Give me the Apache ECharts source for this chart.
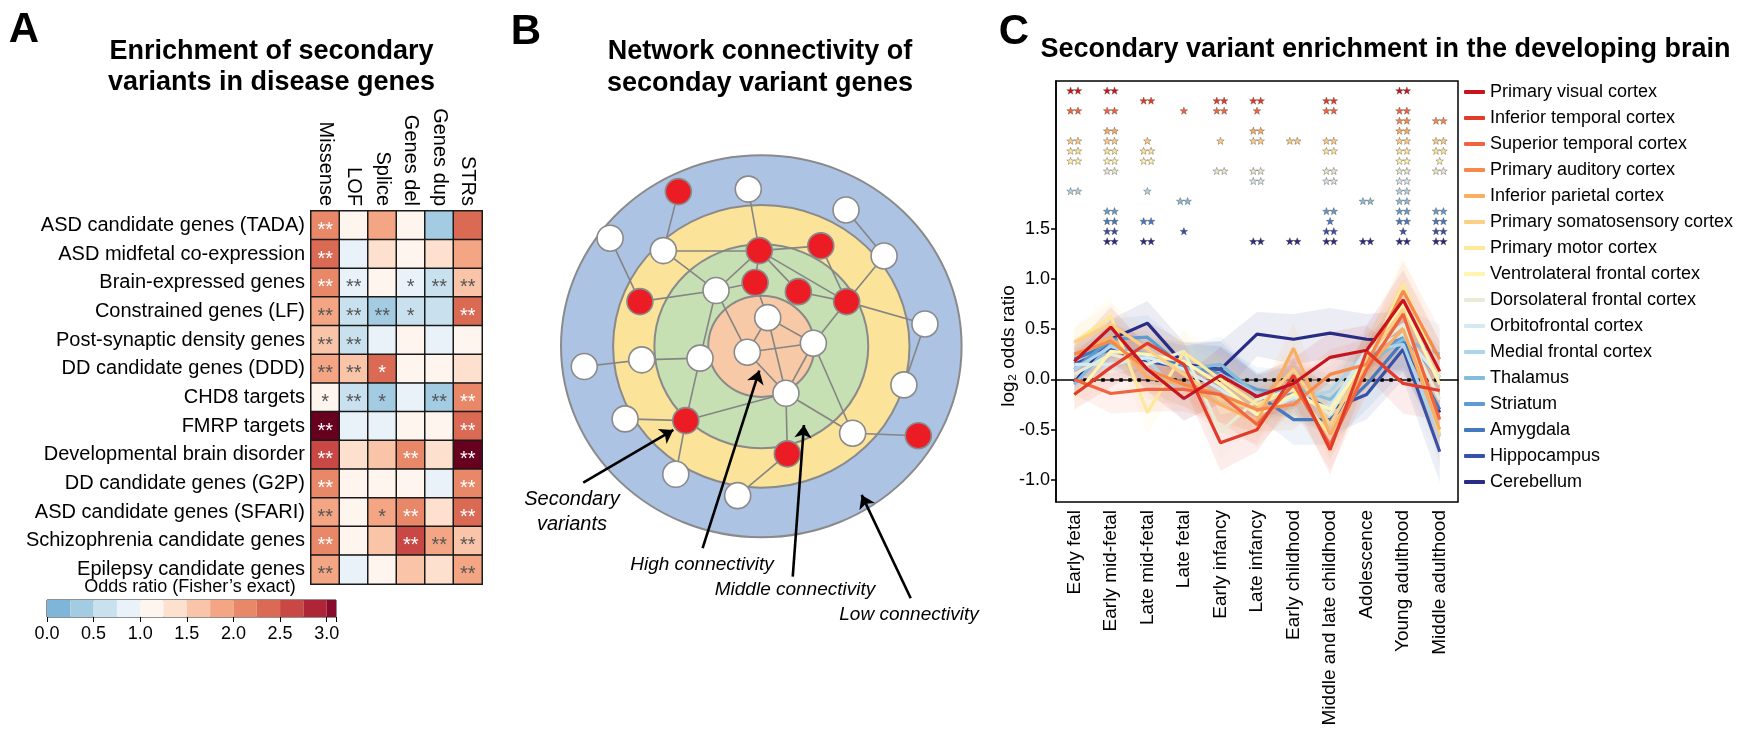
<!DOCTYPE html>
<html>
<head>
<meta charset="utf-8">
<script src="https://cdn.jsdelivr.net/npm/echarts@6/dist/echarts.min.js"></script>
<style>
html, body { margin: 0; padding: 0; background: #fff; }
#chart { width: 1741px; height: 742px; }
</style>
</head>
<body>
<div id="chart"></div>
<script>
const FONT = '"Liberation Sans", Arial, Helvetica, sans-serif';

// ---------- A: enrichment heatmap ----------
const geneSets = [
  'ASD candidate genes (TADA)', 'ASD midfetal co-expression', 'Brain-expressed genes',
  'Constrained genes (LF)', 'Post-synaptic density genes', 'DD candidate genes (DDD)',
  'CHD8 targets', 'FMRP targets', 'Developmental brain disorder', 'DD candidate genes (G2P)',
  'ASD candidate genes (SFARI)', 'Schizophrenia candidate genes', 'Epilepsy candidate genes'
];
const variantClasses = ['Missense', 'LOF', 'Splice', 'Genes del', 'Genes dup', 'STRs'];
const oddsRatios = [
  [2.10, 1.10, 1.85, 1.10, 0.35, 2.35],
  [2.40, 0.90, 1.35, 1.10, 1.35, 1.85],
  [2.10, 0.90, 1.10, 0.90, 0.65, 1.60],
  [1.85, 0.60, 0.40, 0.65, 0.65, 2.40],
  [1.60, 0.65, 0.90, 1.10, 0.90, 1.10],
  [1.85, 1.60, 2.40, 1.10, 1.10, 1.35],
  [1.10, 0.65, 0.40, 0.90, 0.40, 2.10],
  [3.30, 0.90, 0.90, 1.10, 1.10, 2.35],
  [2.65, 1.35, 1.60, 2.10, 1.35, 3.30],
  [2.10, 1.10, 1.10, 1.10, 0.90, 2.10],
  [1.85, 1.10, 1.85, 2.10, 1.35, 2.40],
  [2.10, 1.10, 1.60, 2.65, 1.85, 1.60],
  [1.85, 0.90, 1.10, 1.60, 1.35, 1.85]
];
const cellStars = [
  ['**', '', '', '', '', ''],
  ['**', '', '', '', '', ''],
  ['**', '**', '', '*', '**', '**'],
  ['**', '**', '**', '*', '', '**'],
  ['**', '**', '', '', '', ''],
  ['**', '**', '*', '', '', ''],
  ['*', '**', '*', '', '**', '**'],
  ['**', '', '', '', '', '**'],
  ['**', '', '', '**', '', '**'],
  ['**', '', '', '', '', '**'],
  ['**', '', '*', '**', '', '**'],
  ['**', '', '', '**', '**', '**'],
  ['**', '', '', '', '', '**']
];
const orBinEdges = [0, 0.25, 0.5, 0.75, 1.0, 1.25, 1.5, 1.75, 2.0, 2.25, 2.5, 2.75, 3.0, 3.25, 3.5];
const orBinColors = ['#7eb5d8', '#a3cce3', '#c9e1ee', '#e9f2f8', '#fef5ef', '#fde0cd', '#f9c4a8',
  '#f4a583', '#e98868', '#db6a55', '#c94845', '#ae2538', '#870b2b', '#67001f'];
const orTicks = [0, 0.5, 1.0, 1.5, 2.0, 2.5, 3.0];

// ---------- B: network schematic ----------
const ringRadii = [1.0, 0.74, 0.534, 0.265];
const ringColors = ['#adc3e4', '#fbe39a', '#c6dfb3', '#f8c9a6'];
const nodeX = [-0.414, -0.065, 0.423, -0.755, -0.489, -0.010, 0.297, 0.613, -0.606, -0.226,
  -0.031, 0.185, 0.426, 0.817, 0.032, 0.260, -0.070, -0.306, -0.597, -0.884,
  0.123, 0.712, -0.680, -0.377, 0.456, 0.784, 0.130, -0.427, -0.118];
const nodeY = [0.810, 0.823, 0.714, 0.566, 0.501, 0.501, 0.526, 0.473, 0.234, 0.292,
  0.334, 0.286, 0.234, 0.117, 0.150, 0.016, -0.031, -0.062, -0.071, -0.106,
  -0.246, -0.202, -0.380, -0.389, -0.455, -0.468, -0.563, -0.670, -0.782];
const nodeVariant = [1, 0, 0, 0, 0, 1, 1, 0, 1, 0,
  1, 1, 1, 0, 0, 0, 0, 0, 0, 0,
  0, 0, 0, 1, 0, 1, 1, 0, 0];
const edges = [[0, 4], [1, 5], [2, 7], [3, 8], [4, 5], [5, 6], [4, 9], [5, 9], [5, 10], [5, 11],
  [5, 12], [6, 12], [7, 12], [8, 9], [9, 17], [9, 10], [9, 16], [10, 14], [11, 12], [12, 13],
  [12, 15], [13, 21], [14, 15], [14, 16], [14, 20], [15, 16], [15, 20], [15, 24], [16, 20],
  [17, 18], [17, 23], [18, 19], [20, 23], [20, 26], [20, 24], [22, 23], [23, 27], [24, 25], [26, 28]];
const arrowTails = [[-0.889, -0.714], [-0.293, -1.057], [0.157, -1.206], [0.746, -1.319]];
const arrowHeads = [[-0.439, -0.438], [-0.010, -0.127], [0.213, -0.412], [0.501, -0.778]];

// ---------- C: developing brain ----------
const stages = ['Early fetal', 'Early mid-fetal', 'Late mid-fetal', 'Late fetal', 'Early infancy',
  'Late infancy', 'Early childhood', 'Middle and late childhood', 'Adolescence',
  'Young adulthood', 'Middle adulthood'];
const regions = ['Primary visual cortex', 'Inferior temporal cortex', 'Superior temporal cortex',
  'Primary auditory cortex', 'Inferior parietal cortex', 'Primary somatosensory cortex',
  'Primary motor cortex', 'Ventrolateral frontal cortex', 'Dorsolateral frontal cortex',
  'Orbitofrontal cortex', 'Medial frontal cortex', 'Thalamus', 'Striatum', 'Amygdala',
  'Hippocampus', 'Cerebellum'];
const regionColors = ['#c8141e', '#e23b2a', '#f06540', '#f68a4a', '#f9ae62', '#fdcf85',
  '#fee89a', '#fff4b0', '#e6ecd6', '#d3e9f4', '#acd4ea', '#84bcdd', '#5e9bcf', '#4479c0',
  '#3651a8', '#292c85'];
const log2OR = [
  [0.18, 0.52, 0.10, -0.19, 0.04, -0.17, -0.04, 0.22, 0.29, 0.79, 0.08],
  [-0.15, 0.12, 0.36, 0.15, -0.63, -0.50, 0.04, -0.70, 0.28, -0.04, -0.11],
  [0.00, -0.14, -0.10, -0.10, -0.15, -0.45, -0.05, -0.65, 0.10, 0.65, -0.40],
  [0.25, 0.38, 0.10, -0.05, -0.15, -0.30, -0.25, 0.05, 0.15, 0.88, 0.20],
  [0.25, 0.42, 0.02, -0.05, -0.25, -0.42, 0.31, -0.55, 0.12, 0.50, -0.50],
  [0.37, 0.55, 0.30, 0.05, -0.20, -0.30, 0.10, -0.45, 0.20, 0.70, -0.55],
  [0.37, 0.63, -0.33, 0.27, 0.00, -0.25, -0.10, -0.55, 0.15, 0.95, 0.05],
  [-0.18, 0.28, 0.25, 0.18, -0.05, -0.35, -0.15, -0.30, 0.20, 0.75, -0.05],
  [0.05, 0.25, 0.15, 0.28, -0.52, -0.20, -0.10, -0.35, 0.25, 0.55, -0.20],
  [0.15, 0.15, 0.22, 0.10, -0.10, -0.35, -0.18, -0.28, 0.30, 0.45, 0.02],
  [0.10, 0.33, 0.20, -0.20, 0.05, -0.15, -0.20, -0.12, 0.28, 0.35, -0.57],
  [-0.05, 0.35, 0.25, 0.10, 0.15, -0.15, -0.08, -0.20, 0.15, 0.40, 0.25],
  [0.10, 0.40, 0.42, 0.12, 0.05, -0.10, -0.15, -0.30, 0.20, 0.42, 0.02],
  [0.20, 0.35, 0.20, 0.15, 0.05, -0.15, -0.40, -0.40, -0.05, 0.38, -0.30],
  [0.15, 0.30, 0.18, 0.12, 0.10, -0.18, -0.10, -0.30, -0.15, 0.30, -0.72],
  [-0.03, 0.40, 0.56, 0.15, 0.10, 0.45, 0.40, 0.46, 0.40, 0.38, -0.33]
];
const ciHalfWidth = [0.15, 0.20, 0.22, 0.22, 0.28, 0.22, 0.25, 0.25, 0.25, 0.30, 0.30];
const stageStars = [
  ['**', '**', '', '', '', '', '', '', '', '**', ''],
  ['', '', '**', '', '**', '**', '', '**', '', '', ''],
  ['**', '**', '', '*', '**', '*', '', '**', '', '**', ''],
  ['', '', '', '', '', '', '', '', '', '**', '**'],
  ['', '**', '', '', '', '**', '', '', '', '**', ''],
  ['**', '**', '*', '', '*', '**', '**', '**', '', '**', '**'],
  ['**', '**', '**', '', '', '', '', '**', '', '**', '**'],
  ['**', '**', '**', '', '', '', '', '', '', '**', '*'],
  ['', '**', '', '', '**', '**', '', '**', '', '**', '**'],
  ['', '', '', '', '', '**', '', '**', '', '**', ''],
  ['**', '', '*', '', '', '', '', '', '', '**', ''],
  ['', '', '', '**', '', '', '', '', '**', '**', ''],
  ['', '**', '', '', '', '', '', '**', '', '**', '**'],
  ['', '**', '**', '', '', '', '', '*', '', '**', '**'],
  ['', '**', '', '*', '', '', '', '**', '', '*', '**'],
  ['', '**', '**', '', '', '**', '**', '**', '**', '**', '**']
];
const log2Ticks = [-1.0, -0.5, 0.0, 0.5, 1.0, 1.5];

// five-point star outline centred on (cx, cy), in pixels
function starPoints(cx, cy, R, r) {
  const pts = [];
  for (let k = 0; k < 10; k++) {
    const a = -Math.PI / 2 + k * Math.PI / 5;
    const rad = k % 2 === 0 ? R : r;
    pts.push([cx + rad * Math.cos(a), cy + rad * Math.sin(a) + 0.4]);
  }
  return pts;
}

const chart = echarts.init(document.getElementById('chart'), null, { renderer: 'canvas' });

// heatmap cells
const heatData = [];
oddsRatios.forEach((row, r) => row.forEach((v, c) => {
  const s = cellStars[r][c];
  heatData.push({
    value: [c, r, v],
    label: { show: s !== '', formatter: s, color: v >= 2 ? '#ffffff' : '#555555' }
  });
}));

const bins = [];
for (let i = 0; i < orBinColors.length; i++) bins.push([orBinEdges[i], orBinEdges[i + 1], i]);

const series = [];

series.push({
  type: 'heatmap', xAxisIndex: 0, yAxisIndex: 0, data: heatData,
  itemStyle: { borderColor: '#1a1a1a', borderWidth: 1.5 },
  label: { fontFamily: FONT, fontSize: 20, offset: [0, 5] },
  emphasis: { disabled: true }, z: 2
});

const cbMax = 3.1;
series.push({
  type: 'custom', xAxisIndex: 1, yAxisIndex: 1, data: bins, clip: false,
  renderItem: function (params, api) {
    const lo = api.value(0), hi = Math.min(api.value(1), cbMax);
    if (lo >= cbMax) return null;
    const p0 = api.coord([lo, 1]), p1 = api.coord([hi, 0]);
    return { type: 'rect', shape: { x: p0[0], y: p0[1], width: p1[0] - p0[0], height: p1[1] - p0[1] },
      style: { fill: orBinColors[api.value(2)] } };
  }
});

// network rings
series.push({
  type: 'custom', xAxisIndex: 2, yAxisIndex: 2, clip: false, z: 1,
  data: ringRadii.map((r, i) => [r, i]),
  renderItem: function (params, api) {
    const c = api.coord([0, 0]);
    const s = api.size([api.value(0), api.value(0)]);
    return { type: 'ellipse', shape: { cx: c[0], cy: c[1], rx: s[0], ry: s[1] },
      style: { fill: ringColors[api.value(1)], stroke: '#8a8a8a', lineWidth: 2 } };
  }
});
series.push({
  type: 'lines', coordinateSystem: 'cartesian2d', xAxisIndex: 2, yAxisIndex: 2, z: 3, silent: true,
  data: edges.map(([a, b]) => ({ coords: [[nodeX[a], nodeY[a]], [nodeX[b], nodeY[b]]] })),
  lineStyle: { color: '#858585', width: 1.6, opacity: 1 }
});
series.push({
  type: 'scatter', xAxisIndex: 2, yAxisIndex: 2, z: 4, symbolSize: 26, silent: true,
  data: nodeX.map((x, i) => ({ value: [x, nodeY[i]],
    itemStyle: { color: nodeVariant[i] ? '#ec1c24' : '#ffffff' } })),
  itemStyle: { borderColor: '#8a8a8a', borderWidth: 1.6, opacity: 1 }
});
series.push({
  type: 'lines', coordinateSystem: 'cartesian2d', xAxisIndex: 2, yAxisIndex: 2, z: 5, silent: true,
  symbol: ['none', 'arrow'], symbolSize: 13,
  data: arrowTails.map((t, i) => ({ coords: [t, arrowHeads[i]] })),
  lineStyle: { color: '#000', width: 2.6, opacity: 1 }
});

// developing brain: bands, lines, significance stars (drawn last region first)
for (let i = regions.length - 1; i >= 0; i--) {
  const lower = log2OR[i].map((v, j) => +(v - ciHalfWidth[j]).toFixed(3));
  const span = ciHalfWidth.map(h => +(2 * h).toFixed(3));
  series.push({
    name: regions[i] + ' lower', type: 'line', xAxisIndex: 3, yAxisIndex: 3,
    stack: 'ci' + i, stackStrategy: 'all', data: lower, symbol: 'none',
    lineStyle: { opacity: 0 }, silent: true, z: 1
  });
  series.push({
    name: regions[i] + ' band', type: 'line', xAxisIndex: 3, yAxisIndex: 3,
    stack: 'ci' + i, stackStrategy: 'all', data: span, symbol: 'none',
    lineStyle: { opacity: 0 }, areaStyle: { color: regionColors[i], opacity: 0.09 }, silent: true, z: 1
  });
}
for (let i = regions.length - 1; i >= 0; i--) {
  const s = {
    name: regions[i], type: 'line', xAxisIndex: 3, yAxisIndex: 3, data: log2OR[i],
    symbol: 'none', color: regionColors[i], lineStyle: { width: 3.2, color: regionColors[i] }, z: 3
  };
  if (i === regions.length - 1) {
    s.markLine = {
      silent: true, symbol: 'none', label: { show: false }, z: 2,
      lineStyle: { color: '#000', type: [3.5, 5.5], width: 3.5 },
      data: [[{ coord: [stages[0], 0] }, { coord: [stages[stages.length - 1], 0] }]]
    };
  }
  series.push(s);
}

// significance markers: one row per region above the curves
const starTop = 2.875, starStep = 0.1;
const starData = [];
regions.forEach((name, i) => {
  stageStars[i].forEach((s, j) => {
    if (s) starData.push([j, starTop - starStep * i, s.length, i]);
  });
});
series.push({
  type: 'custom', xAxisIndex: 3, yAxisIndex: 3, data: starData, z: 6, silent: true, clip: false,
  renderItem: function (params, api) {
    const c = api.coord([api.value(0), api.value(1)]);
    const n = api.value(2), col = regionColors[api.value(3)];
    const offs = n === 2 ? [-3.7, 3.7] : [0];
    return {
      type: 'group',
      children: offs.map(dx => ({
        type: 'polygon', shape: { points: starPoints(c[0] + dx, c[1], 4, 1.6) },
        style: { fill: col, stroke: 'rgba(60,40,30,0.55)', lineWidth: 0.6 }
      }))
    };
  }
});

const txt = (text, x, y, size, extra, rotation) => ({
  type: 'text', x: x, y: y, silent: true, rotation: rotation || 0,
  style: Object.assign({ text: text, fontFamily: FONT, fontSize: size, fill: '#000',
    textAlign: 'center', textVerticalAlign: 'middle' }, extra || {})
});

const option = {
  animation: false,
  backgroundColor: '#ffffff',
  textStyle: { fontFamily: FONT },
  grid: [
    { left: 311, top: 211, width: 171, height: 373 },
    { left: 47, top: 600, width: 289, height: 17, show: true, borderColor: '#222', borderWidth: 1, backgroundColor: 'transparent' },
    { left: 480.9, top: 98, width: 560.8, height: 553.9 },
    { left: 1056, top: 81, width: 402, height: 421, show: true, borderColor: '#000', borderWidth: 1.5, backgroundColor: 'transparent' }
  ],
  xAxis: [
    { type: 'category', gridIndex: 0, data: variantClasses, position: 'top',
      axisLine: { show: false }, axisTick: { show: false },
      axisLabel: { rotate: 90, fontSize: 20, color: '#000', margin: 5, fontFamily: FONT } },
    { type: 'value', gridIndex: 1, min: 0, max: cbMax, interval: 0.5, splitLine: { show: false },
      axisLine: { show: false }, axisTick: { show: true, length: 5, lineStyle: { color: '#000' } },
      axisLabel: { fontSize: 18, color: '#000', margin: 8, fontFamily: FONT, formatter: v => v.toFixed(1),
        customValues: orTicks } },
    { type: 'value', gridIndex: 2, min: -1.4, max: 1.4, show: false },
    { type: 'category', gridIndex: 3, data: stages, boundaryGap: true,
      axisLine: { lineStyle: { color: '#000', width: 1.5 } },
      axisTick: { alignWithLabel: true, length: 5, lineStyle: { color: '#000', width: 1.5 } },
      axisLabel: { rotate: 90, fontSize: 19, color: '#000', margin: 8, fontFamily: FONT, interval: 0 } }
  ],
  yAxis: [
    { type: 'category', gridIndex: 0, data: geneSets, inverse: true,
      axisLine: { show: false }, axisTick: { show: false },
      axisLabel: { fontSize: 20, color: '#000', margin: 6, fontFamily: FONT } },
    { type: 'value', gridIndex: 1, min: 0, max: 1, show: false },
    { type: 'value', gridIndex: 2, min: -1.6, max: 1.3, show: false },
    { type: 'value', gridIndex: 3, min: -1.22, max: 2.97, splitLine: { show: false },
      axisLine: { show: true, lineStyle: { color: '#000', width: 1.5 } },
      axisTick: { show: true, length: 5, lineStyle: { color: '#000', width: 1.5 }, customValues: log2Ticks },
      axisLabel: { fontSize: 18, color: '#000', margin: 6, fontFamily: FONT, customValues: log2Ticks,
        formatter: v => v.toFixed(1) } }
  ],
  visualMap: [{
    type: 'piecewise', show: false, seriesIndex: 0, dimension: 2,
    pieces: bins.map(b => ({ gte: b[0], lt: b[1], color: orBinColors[b[2]] }))
  }],
  legend: {
    data: regions, orient: 'vertical', left: 1464, top: 82, padding: 0,
    itemWidth: 21, itemHeight: 4, itemGap: 6, icon: 'roundRect', selectedMode: false,
    textStyle: { fontSize: 18, lineHeight: 20, color: '#000', fontFamily: FONT }
  },
  graphic: [
    txt('A', 24, 30, 42, { fontWeight: 'bold' }),
    txt('B', 526, 32, 42, { fontWeight: 'bold' }),
    txt('C', 1014, 32, 42, { fontWeight: 'bold' }),
    txt('Enrichment of secondary\nvariants in disease genes', 271.5, 67, 27, { fontWeight: 'bold', lineHeight: 31 }),
    txt('Network connectivity of\nseconday variant genes', 760, 68, 27, { fontWeight: 'bold', lineHeight: 32 }),
    txt('Secondary variant enrichment in the developing brain', 1385.5, 50, 27, { fontWeight: 'bold' }),
    txt('Odds ratio (Fisher\u2019s exact)', 190, 587, 18),
    txt('log\u2082 odds ratio', 1009, 346, 19, null, Math.PI / 2),
    txt('Secondary\nvariants', 572, 512, 20, { fontStyle: 'italic', lineHeight: 25 }),
    txt('High connectivity', 702, 565, 19, { fontStyle: 'italic' }),
    txt('Middle connectivity', 795, 590, 19, { fontStyle: 'italic' }),
    txt('Low connectivity', 909, 615, 19, { fontStyle: 'italic' })
  ],
  series: series
};
chart.setOption(option);
</script>
</body>
</html>
